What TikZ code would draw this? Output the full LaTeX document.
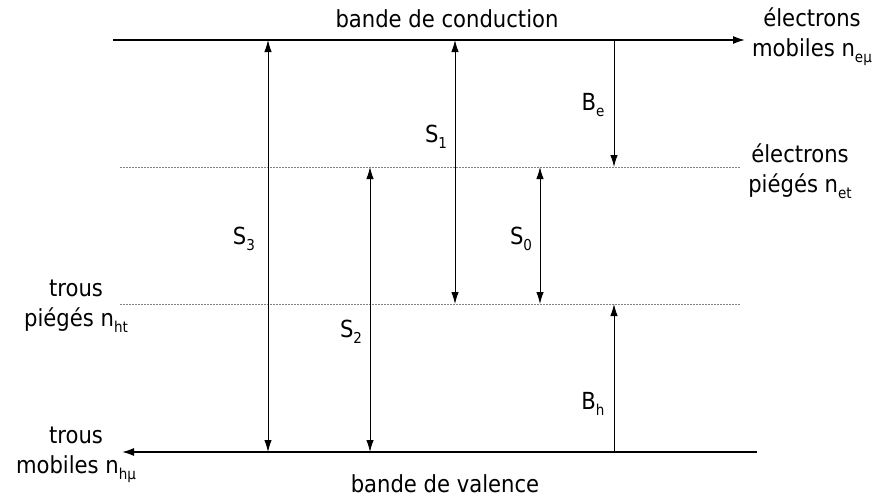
\documentclass[tikz,border=0pt]{standalone}
\usepackage{fontspec}
\setmainfont{DejaVu Sans Condensed}
\usetikzlibrary{arrows.meta}
\newcommand{\lowidx}[1]{\raisebox{-0.45ex}{\fontsize{15}{15}\selectfont #1}}
\tikzset{
  band/.style={line width=1.6pt},
  trap/.style={line width=0.7pt, gray, dash pattern=on 2pt off 1pt},
  trans/.style={line width=1pt},
  lbl/.style={font=\fontsize{23.5}{30}\selectfont, inner sep=0pt, align=center},
}
\begin{document}
\begin{tikzpicture}[x=1pt, y=-1pt]
\useasboundingbox (0,0) rectangle (880,499);
% band edges and trap levels
\coordinate (cbL) at (113,40);  \coordinate (cbR) at (745,40);
\coordinate (etL) at (120,167); \coordinate (etR) at (740,167);
\coordinate (htL) at (120,304); \coordinate (htR) at (740,304);
\coordinate (vbL) at (122,452); \coordinate (vbR) at (757,452);
\draw[band, -{Latex[length=12pt,width=8pt]}] (cbL) -- (cbR);
\draw[band, -{Latex[length=12pt,width=8pt]}] (vbR) -- (vbL);
\draw[trap] (etL) -- (etR);
\draw[trap] (htL) -- (htR);
% transitions
\coordinate (s3t) at (268,40);  \coordinate (s3b) at (268,452);
\coordinate (s2t) at (370,167); \coordinate (s2b) at (370,452);
\coordinate (s1t) at (455,40);  \coordinate (s1b) at (455,304);
\coordinate (s0t) at (540,167); \coordinate (s0b) at (540,304);
\coordinate (bet) at (614,40);  \coordinate (beb) at (614,167);
\coordinate (bht) at (614,304); \coordinate (bhb) at (614,452);
\draw[trans, {Latex[length=12pt,width=7.5pt]}-{Latex[length=12pt,width=7.5pt]}] (s3t) -- (s3b);
\draw[trans, {Latex[length=12pt,width=7.5pt]}-{Latex[length=12pt,width=7.5pt]}] (s2t) -- (s2b);
\draw[trans, {Latex[length=12pt,width=7.5pt]}-{Latex[length=12pt,width=7.5pt]}] (s1t) -- (s1b);
\draw[trans, {Latex[length=12pt,width=7.5pt]}-{Latex[length=12pt,width=7.5pt]}] (s0t) -- (s0b);
\draw[trans, -{Latex[length=12pt,width=7.5pt]}] (bet) -- (beb);
\draw[trans, -{Latex[length=12pt,width=7.5pt]}] (bhb) -- (bht);
% labels
\node[lbl] (cb) at (447,19) {bande de conduction};
\node[lbl] (vb) at (445,484) {bande de valence};
\node[lbl] (emob) at (812,37) {électrons\\mobiles n\lowidx{eµ}};
\node[lbl] (etrap) at (800,171) {électrons\\piégés n\lowidx{et}};
\node[lbl] (htrap) at (76,306) {trous\\piégés n\lowidx{ht}};
\node[lbl] (hmob) at (76,455) {trous\\mobiles n\lowidx{hµ}};
\node[lbl] (lS1) at (436,137) {S\lowidx{1}};
\node[lbl] (lS3) at (244,239) {S\lowidx{3}};
\node[lbl] (lS0) at (521,239) {S\lowidx{0}};
\node[lbl] (lS2) at (351,332) {S\lowidx{2}};
\node[lbl] (lBe) at (593,105) {B\lowidx{e}};
\node[lbl] (lBh) at (593,404) {B\lowidx{h}};
\end{tikzpicture}
\end{document}
